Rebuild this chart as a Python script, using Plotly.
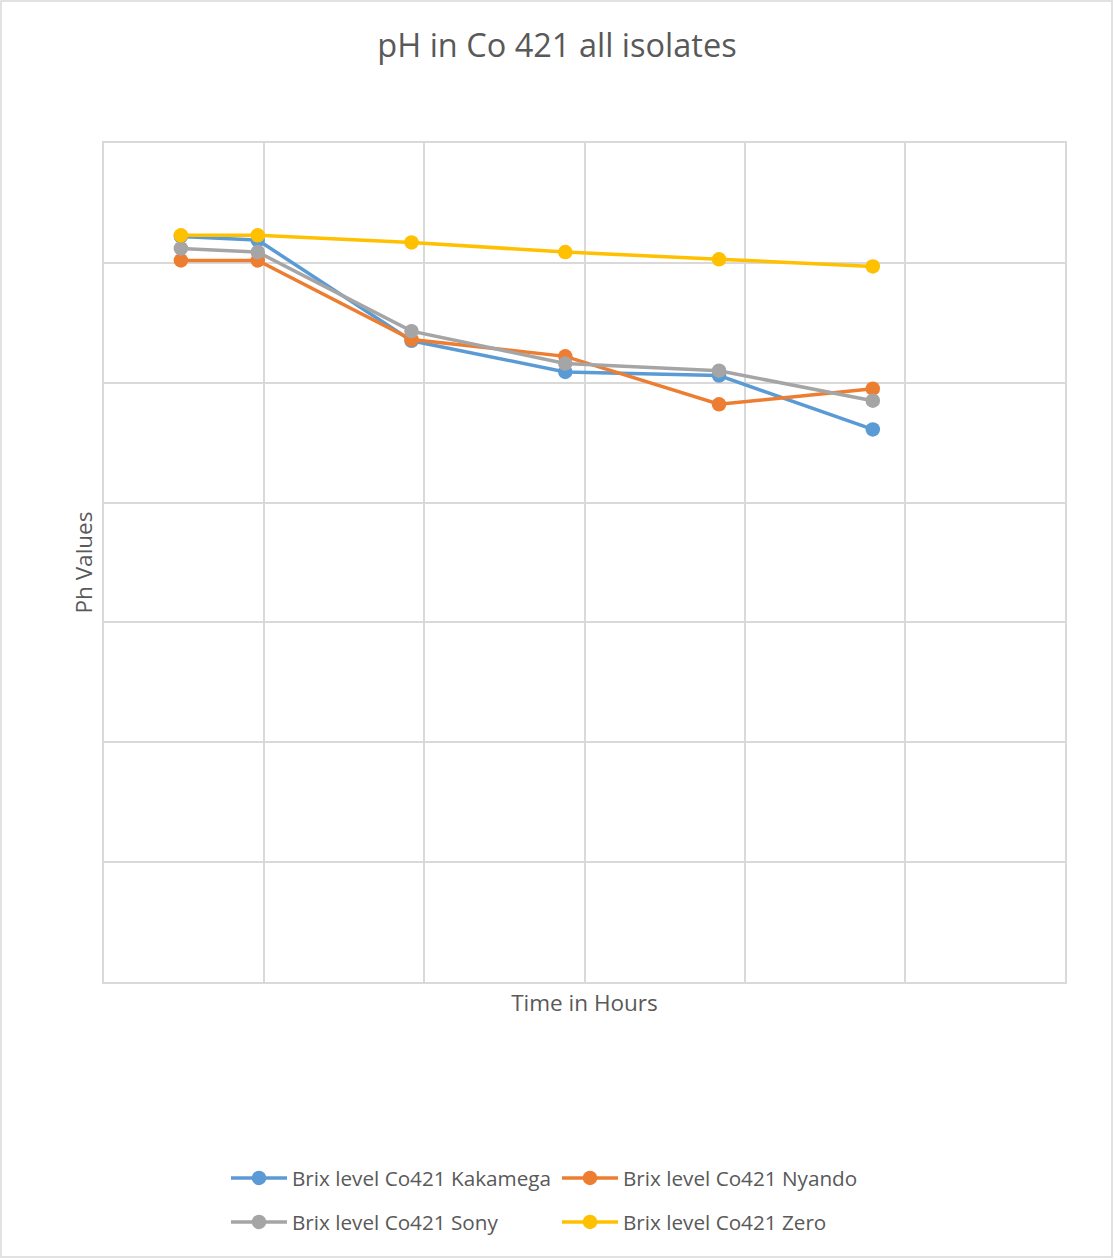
import plotly.graph_objects as go

hours = [12, 24, 48, 72, 96, 120]
kakamega = [6.22, 6.19, 5.35, 5.09, 5.06, 4.61]
nyando = [6.02, 6.02, 5.36, 5.22, 4.82, 4.95]
sony = [6.12, 6.09, 5.43, 5.16, 5.10, 4.85]
zero = [6.23, 6.23, 6.17, 6.09, 6.03, 5.97]

series = [
    ("Brix level Co421 Kakamega", kakamega, "#5B9BD5", "legend"),
    ("Brix level Co421 Nyando", nyando, "#ED7D31", "legend"),
    ("Brix level Co421 Sony", sony, "#A5A5A5", "legend2"),
    ("Brix level Co421 Zero", zero, "#FFC000", "legend2"),
]

W, H = 1114, 1260
L, R, T, B = 104, 1065, 143, 982
pw, ph = R - L, B - T

def px_x(x):
    return (x - L) / pw

def px_y(y):
    return (B - y) / ph

fig = go.Figure()
for name, vals, color, leg in series:
    fig.add_trace(go.Scatter(
        x=hours, y=vals, name=name, mode="lines+markers",
        line=dict(color=color, width=3.5),
        marker=dict(color=color, size=14.5),
        legend=leg,
    ))

font_family = "Open Sans"
text_color = "#595959"
grid = "#D9D9D9"

legend_common = dict(
    orientation="h", xanchor="left", yanchor="middle",
    font=dict(family=font_family, size=20.7, color=text_color),
    entrywidth=260, entrywidthmode="pixels", itemwidth=56,
    bgcolor="rgba(0,0,0,0)", traceorder="normal",
)

fig.update_layout(
    width=W, height=H,
    margin=dict(l=L, r=W - R, t=T, b=H - B, pad=0),
    paper_bgcolor="white", plot_bgcolor="white",
    title=dict(text="pH in Co 421 all isolates", x=0.5, xanchor="center",
               y=1 - 46 / H, yanchor="middle",
               font=dict(family=font_family, size=32.5, color=text_color)),
    xaxis=dict(range=[0, 150], dtick=25, tick0=0, showticklabels=False,
               showgrid=True, gridcolor=grid, gridwidth=1.5, zeroline=False,
               showline=True, linecolor=grid, linewidth=1.5, mirror=True,
               ticks="",
               title=dict(text="Time in Hours", standoff=12,
                          font=dict(family=font_family, size=22.5, color=text_color))),
    yaxis=dict(range=[0, 7], dtick=1, tick0=0, showticklabels=False,
               showgrid=True, gridcolor=grid, gridwidth=1.5, zeroline=False,
               showline=True, linecolor=grid, linewidth=1.5, mirror=True,
               ticks="",
               title=dict(text="Ph Values", standoff=3,
                          font=dict(family=font_family, size=22.5, color=text_color))),
    legend=dict(x=px_x(226), y=px_y(1178), **legend_common),
    legend2=dict(x=px_x(226), y=px_y(1222), **legend_common),
    shapes=[dict(type="rect", xref="paper", yref="paper",
                 x0=px_x(1), x1=px_x(1112), y0=px_y(1257), y1=px_y(1),
                 line=dict(color=grid, width=1.5), fillcolor="rgba(0,0,0,0)",
                 layer="below")],
)

fig.write_html("out.html")
